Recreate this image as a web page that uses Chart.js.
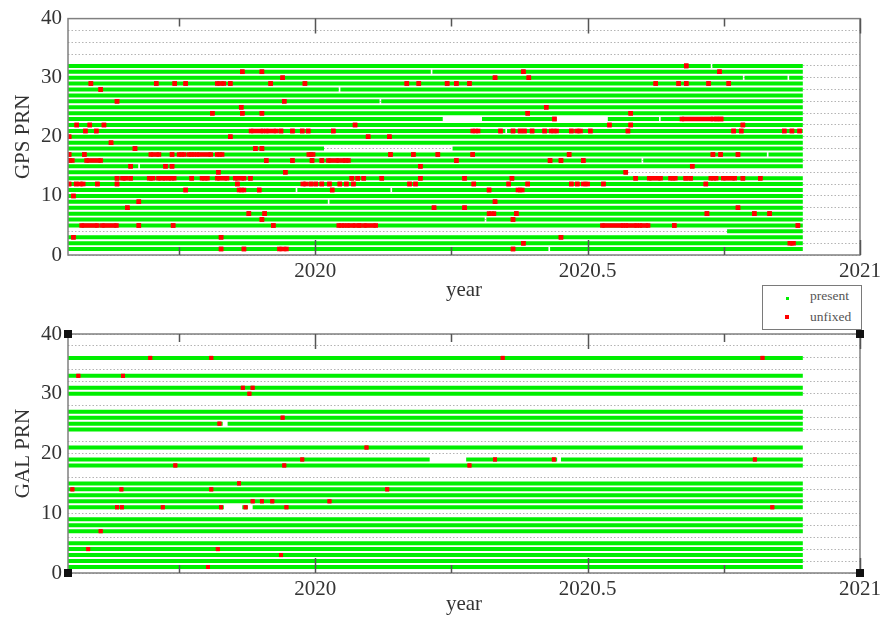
<!DOCTYPE html>
<html>
<head>
<meta charset="utf-8">
<script src="https://cdn.jsdelivr.net/npm/chart.js@4/dist/chart.umd.min.js"></script>
<style>
  body { margin: 0; background: #fff; }
  #wrap { position: relative; width: 885px; height: 624px; background: #fff; }
  canvas { position: absolute; left: 0; }
  #legend {
    position: absolute; left: 762px; top: 285px; width: 100px; height: 45px;
    box-sizing: border-box; border: 1.5px solid #7a7a7a; background: #fff;
    font-family: 'Liberation Serif', serif; font-size: 13.5px; color: #555;
  }
  #legend .mk { position: absolute; display: block; }
  #legend .lb { position: absolute; left: 47px; line-height: 14px; }
</style>
</head>
<body>
<div id="wrap">
  <canvas id="gpsChart" width="885" height="312" style="top:0"></canvas>
  <canvas id="galChart" width="885" height="312" style="top:312px"></canvas>
  <div id="legend">
    <span class="mk" style="left:23px;top:11px;width:3px;height:3px;background:#00ee00"></span>
    <span class="lb" style="top:3px">present</span>
    <span class="mk" style="left:22px;top:29px;width:4px;height:4px;background:#ff0000"></span>
    <span class="lb" style="top:24px">unfixed</span>
  </div>
</div>

<script>
// --- axes ---
const xMin = 2019.546;
const xMax = 2021;
const xMajorTicks = [2020, 2020.5, 2021];
const xMinorTicks = [2019.75, 2020.25, 2020.75];
const yLabelTicks = [0, 10, 20, 30, 40];
const yGridTicks = [0, 2, 4, 6, 8, 10, 12, 14, 16, 18, 20, 22, 24, 26, 28, 30, 32, 34, 36, 38, 40];

// --- observation span ---
const dataStart = 2019.546;
const dataEnd = 2020.895;

// --- GPS ---
const gpsPrns = [1, 2, 3, 4, 5, 6, 7, 8, 9, 10, 11, 12, 13, 14, 15, 16,
                 17, 18, 19, 20, 21, 22, 23, 24, 25, 26, 27, 28, 29, 30, 31, 32];

// [prn, from, to] : no data
const gpsOutages = [
  [1, 2020.428, 2020.431],
  [4, 2019.546, 2020.756],
  [6, 2020.311, 2020.314],
  [9, 2020.023, 2020.026],
  [11, 2019.964, 2019.967], [11, 2020.138, 2020.141],
  [14, 2020.574, 2020.895],
  [15, 2019.675, 2019.678],
  [16, 2020.599, 2020.602],
  [17, 2020.829, 2020.832],
  [18, 2020.016, 2020.252],
  [21, 2020.349, 2020.352],
  [23, 2020.234, 2020.306], [23, 2020.442, 2020.537], [23, 2020.631, 2020.634],
  [26, 2020.118, 2020.121],
  [28, 2020.043, 2020.046],
  [30, 2020.785, 2020.788], [30, 2020.867, 2020.870],
  [31, 2020.212, 2020.215],
  [32, 2020.726, 2020.729]
];

// [prn, from, to?] : ambiguities not fixed
const gpsUnfixed = [
  [1, 2019.827], [1, 2019.869], [1, 2019.934, 2019.947], [1, 2020.363],
  [2, 2020.382], [2, 2020.871, 2020.878],
  [3, 2019.556], [3, 2019.827], [3, 2020.451],
  [5, 2019.571, 2019.600], [5, 2019.609, 2019.635], [5, 2019.676], [5, 2019.739], [5, 2019.923],
  [5, 2020.043, 2020.053], [5, 2020.059, 2020.073], [5, 2020.081], [5, 2020.090, 2020.111],
  [5, 2020.527, 2020.565], [5, 2020.570, 2020.590], [5, 2020.596, 2020.611], [5, 2020.659], [5, 2020.886],
  [6, 2019.902], [6, 2020.363],
  [7, 2019.878], [7, 2019.907], [7, 2020.319, 2020.328], [7, 2020.369], [7, 2020.719], [7, 2020.806], [7, 2020.834],
  [8, 2019.655], [8, 2020.218], [8, 2020.274], [8, 2020.776],
  [9, 2019.676], [9, 2020.330],
  [10, 2019.556],
  [11, 2019.762], [11, 2019.860, 2019.869], [11, 2019.897], [11, 2020.031], [11, 2020.319], [11, 2020.372, 2020.380],
  [12, 2019.548], [12, 2019.561], [12, 2019.568, 2019.574], [12, 2019.600], [12, 2019.636], [12, 2019.857],
  [12, 2019.977, 2019.983], [12, 2019.992], [12, 2020.001], [12, 2020.012], [12, 2020.026], [12, 2020.045],
  [12, 2020.057], [12, 2020.070], [12, 2020.173], [12, 2020.184], [12, 2020.291], [12, 2020.355], [12, 2020.390],
  [12, 2020.470], [12, 2020.481], [12, 2020.492, 2020.500], [12, 2020.529], [12, 2020.717],
  [13, 2019.636], [13, 2019.646, 2019.652], [13, 2019.661], [13, 2019.695, 2019.702], [13, 2019.712, 2019.724],
  [13, 2019.731, 2019.741], [13, 2019.773], [13, 2019.792, 2019.802], [13, 2019.820, 2019.838], [13, 2019.853, 2019.869],
  [13, 2019.881], [13, 2020.067], [13, 2020.078], [13, 2020.089], [13, 2020.122], [13, 2020.193], [13, 2020.274],
  [13, 2020.361], [13, 2020.588], [13, 2020.613, 2020.634], [13, 2020.652, 2020.661], [13, 2020.680], [13, 2020.689],
  [13, 2020.726, 2020.736], [13, 2020.749, 2020.770], [13, 2020.785], [13, 2020.817],
  [14, 2019.822], [14, 2019.945], [14, 2020.570],
  [15, 2019.661], [15, 2019.725], [15, 2019.737], [15, 2020.193], [15, 2020.692],
  [16, 2019.546, 2019.554], [16, 2019.580, 2019.606], [16, 2019.910], [16, 2019.958], [16, 2019.994], [16, 2020.012],
  [16, 2020.024, 2020.043], [16, 2020.051, 2020.061], [16, 2020.259], [16, 2020.431], [16, 2020.451], [16, 2020.492],
  [17, 2019.548], [17, 2019.576], [17, 2019.698, 2019.713], [17, 2019.737], [17, 2019.750, 2019.759],
  [17, 2019.768, 2019.777], [17, 2019.783, 2019.808], [17, 2019.820, 2019.829], [17, 2019.988, 2019.996],
  [17, 2020.138], [17, 2020.180], [17, 2020.225], [17, 2020.289], [17, 2020.466], [17, 2020.730], [17, 2020.744], [17, 2020.776],
  [18, 2019.669], [18, 2019.890], [18, 2019.902],
  [19, 2019.625],
  [20, 2019.548], [20, 2019.844], [20, 2020.097], [20, 2020.136],
  [21, 2019.578], [21, 2019.598], [21, 2019.882, 2019.904], [21, 2019.910, 2019.928], [21, 2019.937], [21, 2019.958],
  [21, 2019.976], [21, 2019.987], [21, 2020.033], [21, 2020.289, 2020.299], [21, 2020.340], [21, 2020.363],
  [21, 2020.376], [21, 2020.384], [21, 2020.398], [21, 2020.421], [21, 2020.433, 2020.443], [21, 2020.470],
  [21, 2020.480, 2020.487], [21, 2020.505], [21, 2020.574], [21, 2020.768], [21, 2020.782], [21, 2020.861],
  [21, 2020.875], [21, 2020.889],
  [22, 2019.562], [22, 2019.586], [22, 2019.612], [22, 2020.073], [22, 2020.540], [22, 2020.579], [22, 2020.785],
  [23, 2020.439], [23, 2020.673, 2020.730], [23, 2020.737], [23, 2020.745],
  [24, 2019.811], [24, 2019.866], [24, 2019.902], [24, 2020.390], [24, 2020.579],
  [25, 2019.864], [25, 2020.424],
  [26, 2019.636], [26, 2019.943],
  [28, 2019.606],
  [29, 2019.588], [29, 2019.708], [29, 2019.742], [29, 2019.762], [29, 2019.820, 2019.832], [29, 2019.844],
  [29, 2019.918], [29, 2019.981], [29, 2020.168], [29, 2020.190], [29, 2020.242], [29, 2020.259], [29, 2020.283],
  [29, 2020.625], [29, 2020.667], [29, 2020.681], [29, 2020.722], [29, 2020.759],
  [30, 2019.940], [30, 2020.330], [30, 2020.392],
  [31, 2019.866], [31, 2019.902], [31, 2020.382], [31, 2020.742],
  [32, 2020.681]
];

// --- Galileo ---
const galPrns = [1, 2, 3, 4, 5, 7, 8, 9, 11, 12, 13, 14, 15, 18, 19, 21, 24, 25, 26, 27, 30, 31, 33, 36];

const galOutages = [
  [11, 2019.832, 2019.866], [11, 2019.876, 2019.885],
  [19, 2020.210, 2020.277], [19, 2020.444, 2020.451],
  [25, 2019.830, 2019.839]
];

const galUnfixed = [
  [1, 2019.803],
  [3, 2019.937],
  [4, 2019.583], [4, 2019.821],
  [7, 2019.606],
  [11, 2019.636], [11, 2019.645], [11, 2019.720], [11, 2019.827], [11, 2019.872], [11, 2019.947], [11, 2020.839],
  [12, 2019.885], [12, 2019.902], [12, 2019.921], [12, 2020.026],
  [14, 2019.554], [14, 2019.644], [14, 2019.809], [14, 2020.132],
  [15, 2019.860],
  [18, 2019.743], [18, 2019.943], [18, 2020.283],
  [19, 2019.976], [19, 2020.330], [19, 2020.438], [19, 2020.807],
  [21, 2020.094],
  [25, 2019.824],
  [26, 2019.940],
  [30, 2019.879],
  [31, 2019.867], [31, 2019.885],
  [33, 2019.565], [33, 2019.647],
  [36, 2019.697], [36, 2019.809], [36, 2020.344], [36, 2020.821]
];

const fontFamily = "'Liberation Serif', 'Times New Roman', serif";
const textColor = '#333';

// one line per PRN, broken at the outages (null = gap)
function presentPoints(prns, outages) {
  const pts = [];
  prns.forEach(prn => {
    const cuts = outages.filter(o => o[0] === prn).sort((a, b) => a[1] - b[1]);
    let from = dataStart;
    cuts.forEach(c => {
      if (c[1] > from) pts.push({x: from, y: prn}, {x: c[1], y: prn}, {x: c[1], y: null});
      from = Math.max(from, c[2]);
    });
    if (dataEnd > from) pts.push({x: from, y: prn}, {x: dataEnd, y: prn}, {x: dataEnd, y: null});
  });
  return pts;
}

function unfixedPoints(list) {
  const pts = [];
  list.forEach(u => {
    const end = u.length > 2 ? u[2] : u[1];
    pts.push({x: u[1], y: u[0]}, {x: end, y: u[0]}, {x: end, y: null});
  });
  return pts;
}

// frame + inside tick marks (gnuplot style)
const framePlugin = {
  id: 'frame',
  afterDatasetsDraw(chart, args, opts) {
    const {ctx, chartArea: a, scales} = chart;
    ctx.save();
    ctx.strokeStyle = '#808080';
    ctx.lineWidth = 1.5;
    ctx.strokeRect(a.left, a.top, a.right - a.left, a.bottom - a.top);

    ctx.strokeStyle = '#555';
    ctx.lineWidth = 1.5;
    [...xMajorTicks, ...xMinorTicks].forEach(v => {
      const px = Math.round(scales.x.getPixelForValue(v)) + 0.5;
      const len = xMajorTicks.includes(v) ? 15 : 8;
      ctx.beginPath();
      ctx.moveTo(px, a.top); ctx.lineTo(px, a.top + len);
      ctx.moveTo(px, a.bottom); ctx.lineTo(px, a.bottom - len);
      ctx.stroke();
    });

    if (opts.corners) {
      ctx.fillStyle = '#111';
      [[a.left, a.top], [a.right, a.top], [a.left, a.bottom], [a.right, a.bottom]].forEach(([cx, cy]) => {
        ctx.fillRect(cx - 4, cy - 4, 8, 8);
      });
    }
    ctx.restore();
  }
};

function makeChart(canvasId, prns, outages, unfixed, yTitle, pad, axisHeight, titlePad, corners, dotSize) {
  const ctx = document.getElementById(canvasId).getContext('2d');
  return new Chart(ctx, {
    type: 'line',
    data: {
      datasets: [
        {
          label: 'unfixed',
          data: unfixedPoints(unfixed),
          borderColor: '#ff0000',
          backgroundColor: '#ff0000',
          borderWidth: dotSize * 1.4,
          borderCapStyle: 'butt',
          pointStyle: 'rect',
          pointRadius: dotSize,
          pointBorderWidth: 0,
          pointBackgroundColor: '#ff0000',
          spanGaps: false,
          order: 0
        },
        {
          label: 'present',
          data: presentPoints(prns, outages),
          borderColor: '#00ee00',
          borderWidth: 4,
          borderCapStyle: 'butt',
          pointRadius: 0,
          spanGaps: false,
          order: 1
        }
      ]
    },
    options: {
      responsive: false,
      animation: false,
      devicePixelRatio: 1,
      events: [],
      layout: { padding: { top: pad, right: 23, left: 0, bottom: 0 } },
      plugins: {
        legend: { display: false },
        tooltip: { enabled: false },
        frame: { corners: corners }
      },
      scales: {
        x: {
          type: 'linear',
          min: xMin,
          max: xMax,
          afterBuildTicks: s => {
            s.ticks = [...xMinorTicks, ...xMajorTicks].sort((a, b) => a - b).map(v => ({value: v}));
          },
          afterFit: s => { s.height = axisHeight; },
          grid: { display: false, drawTicks: false },
          border: { display: false },
          ticks: {
            autoSkip: false,
            maxRotation: 0,
            padding: 4,
            color: textColor,
            font: { family: fontFamily, size: 21 },
            callback: v => xMajorTicks.includes(v) ? String(v) : ''
          },
          title: {
            display: true,
            text: 'year',
            color: textColor,
            font: { family: fontFamily, size: 21 },
            padding: { top: 0, bottom: titlePad }
          }
        },
        y: {
          type: 'linear',
          min: 0,
          max: 40,
          afterBuildTicks: s => { s.ticks = yGridTicks.map(v => ({value: v})); },
          afterFit: s => { s.width = 68; },
          grid: { color: '#b4b4b4', lineWidth: 1, drawTicks: false },
          border: { display: false, dash: [1.5, 2] },
          ticks: {
            autoSkip: false,
            padding: 6,
            color: textColor,
            font: { family: fontFamily, size: 21 },
            callback: v => yLabelTicks.includes(v) ? String(v) : ''
          },
          title: {
            display: true,
            text: yTitle,
            color: textColor,
            font: { family: fontFamily, size: 21 },
            padding: { top: 11, bottom: 0 }
          }
        }
      }
    },
    plugins: [framePlugin]
  });
}

makeChart('gpsChart', gpsPrns, gpsOutages, gpsUnfixed, 'GPS PRN', 17, 57, 9, false, 3.2);
makeChart('galChart', galPrns, galOutages, galUnfixed, 'GAL PRN', 22, 51, 7, true, 2.8);
</script>
</body>
</html>
